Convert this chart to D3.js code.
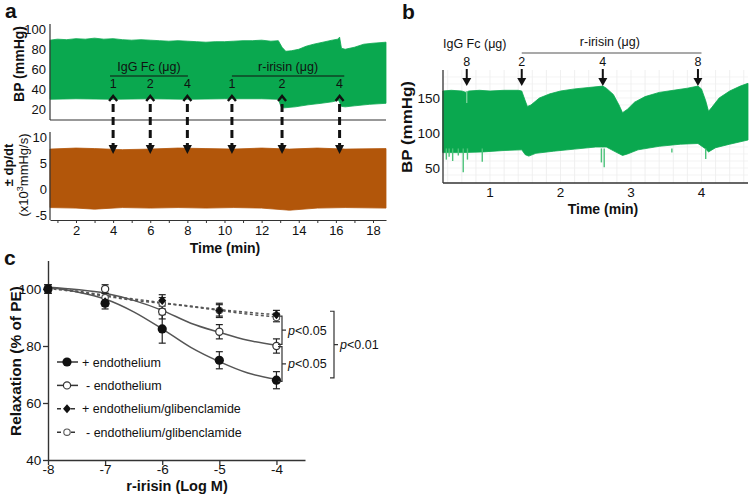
<!DOCTYPE html>
<html><head><meta charset="utf-8">
<script src="https://cdn.jsdelivr.net/npm/d3@7"></script>
<style>
body{margin:0;background:#fff;}
svg text{font-family:"Liberation Sans",Arial,Helvetica,sans-serif;fill:#111;}
</style></head><body>
<svg id="fig" width="750" height="498"></svg>
<script>
// ===== Panel a data =====
const aTimeTicks = [2,4,6,8,10,12,14,16,18];
const aBPTicks = [20,40,60,80,100];
const aDpTicks = [-5,0,5,10];
const aBPTop = [[0.6,89],[1.0,90],[1.5,89.5],[2.0,90.5],[2.5,90],[3.0,91],[3.5,90],[4.0,90.5],[4.5,89.5],[5,89],[5.5,89.5],[6,89],[6.5,88.5],[7,88],[7.5,88.5],[8,88],[8.5,87.5],[9,87],[9.5,87.5],[10,87.5],[10.5,88],[11,88.5],[11.5,88.5],[12,89],[12.5,88],[12.9,88.5],[13.1,82],[13.3,78],[13.6,78.5],[14.0,80],[14.4,83],[14.8,85],[15.3,87],[15.8,89],[16.1,90],[16.2,92],[16.3,81],[16.5,80],[17,82],[17.5,85],[18,86],[18.7,87]];
const aBPBottom = [[0.6,30.5],[2,31],[4,30.5],[6,31],[8,30.5],[10,31],[12,31],[12.9,30.5],[13.05,23],[13.2,22],[13.8,23],[14.5,25],[15.2,26.5],[15.8,28],[16.15,29.5],[16.3,23.5],[16.5,23],[17,24],[17.8,25.5],[18.7,26.5]];
const aDpTop = [[0.6,7.7],[2,7.9],[3,7.8],[4.5,7.6],[6,7.7],[7.5,7.9],[9,7.8],[10.5,7.7],[12,7.9],[13.5,7.7],[15,7.9],[16.5,7.7],[18.7,7.8]];
const aDpBottom = [[0.6,-3.4],[2,-3.5],[3,-3.7],[4.5,-3.4],[6,-3.5],[7.5,-3.4],[9,-3.5],[10.5,-3.4],[12,-3.5],[13.5,-3.9],[15,-3.5],[16.5,-3.4],[18.7,-3.5]];
const aIgGTimes = [4,6,8];
const aIgGLabels = ["1","2","4"];
const aIrisinTimes = [10.4,13.1,16.2];
const aIrisinLabels = ["1","2","4"];

// ===== Panel b data =====
const bTimeTicks = [1,2,3,4];
const bBPTicks = [50,100,150];
const bTop = [[0.33,160],[0.45,161],[0.6,160],[0.66,158],[0.7,160],[0.85,161],[1.0,160],[1.2,161],[1.4,161],[1.45,160],[1.5,146],[1.53,138],[1.58,140],[1.7,150],[1.85,156],[2.0,160],[2.2,163],[2.4,165],[2.6,167],[2.65,164],[2.75,155],[2.83,140],[2.88,129],[2.95,134],[3.05,144],[3.2,152],[3.4,158],[3.6,161],[3.8,164],[3.95,167],[4.0,163],[4.06,146],[4.1,131],[4.15,137],[4.25,150],[4.4,160],[4.55,167],[4.66,171]];
const bBottom = [[0.33,72],[0.6,72],[0.9,73],[1.2,75],[1.45,76],[1.5,69],[1.55,67],[1.65,71],[1.9,74],[2.2,77],[2.5,80],[2.65,80],[2.8,72],[2.88,68],[2.95,70],[3.1,76],[3.4,81],[3.7,84],[3.95,85],[4.05,78],[4.1,73],[4.2,79],[4.4,84],[4.66,90]];
const bSpikeT = [0.38,0.42,0.47,0.55,0.62,0.68,0.89,2.58,2.62,3.58,4.06];
const bSpikeMin = [62,66,60,68,44,62,59,58,51,72,63];
const bDoseT = [0.67,1.45,2.6,3.95];
const bDoseLabels = ["8","2","4","8"];

// ===== Panel c data =====
const cLogM = [-8,-7,-6,-5,-4];
const cEndoPlus = [100,95,86,75,68];
const cEndoPlusErr = [1.5,2,5,3,3];
const cEndoMinus = [100,100,92,85,80];
const cEndoMinusErr = [1.5,1.5,2.5,2.5,2.5];
const cGlibPlus = [100,95.5,96,92.5,91];
const cGlibPlusErr = [1.5,1.5,2,2.5,1.5];
const cGlibMinus = [100,97,95,92.5,90];
const cGlibMinusErr = [1.5,1.5,2,2,1.5];
const cFitX = [-8,-7.5,-7,-6.5,-6,-5.5,-5,-4.5,-4];
const cFitEndoPlus = [100.6,99,96.5,92,86,79.5,74.5,70.5,68.3];
const cFitEndoMinus = [100.6,99.8,98.5,96,92.5,88,84.8,82,80.3];
const cFitGlibPlus = [100.6,99.3,97.8,96.5,95.2,94,92.8,91.8,91];
const cFitGlibMinus = [100.2,99,97.5,96,95,93.8,92.5,91.2,90.2];
const cYTicks = [40,60,80,100];
const cLegend = ["+ endothelium","- endothelium","+ endothelium/glibenclamide","- endothelium/glibenclamide"];

const GREEN = "#0aa84f", ORANGE = "#b2560a", AX = "#333";
const svg = d3.select("#fig");

function band(g, top, bottom, x, y, color){
  const pts = top.map(d=>[x(d[0]),y(d[1])]).concat(bottom.slice().reverse().map(d=>[x(d[0]),y(d[1])]));
  g.append("path").attr("d", d3.line()(pts)+"Z").attr("fill",color).attr("stroke",color).attr("stroke-width",0.8);
}

// ================= Panel a =================
const xA = d3.scaleLinear().domain([0.6,18.7]).range([50,386]);
const yA1 = d3.scaleLinear().domain([10,105]).range([120,24]);
const yA2 = d3.scaleLinear().domain([-5.76,10.95]).range([220,132]);
const ga = svg.append("g");
ga.append("text").attr("x",5).attr("y",18).attr("font-size",21).attr("font-weight","bold").text("a");

band(ga, aBPTop, aBPBottom, xA, yA1, GREEN);
band(ga, aDpTop, aDpBottom, xA, yA2, ORANGE);

ga.append("line").attr("x1",50).attr("x2",50).attr("y1",24).attr("y2",120).attr("stroke",AX).attr("stroke-width",1.2);
ga.append("line").attr("x1",50).attr("x2",386).attr("y1",120).attr("y2",120).attr("stroke",AX).attr("stroke-width",1.2);
ga.append("line").attr("x1",50).attr("x2",50).attr("y1",132).attr("y2",220).attr("stroke",AX).attr("stroke-width",1.2);
const axA = d3.axisBottom(xA).tickValues(d3.range(1,19)).tickSize(3).tickSizeOuter(0)
  .tickFormat(d=>aTimeTicks.includes(d)?d:"");
const gxa = ga.append("g").attr("transform","translate(0,220)").call(axA);
gxa.select(".domain").attr("stroke",AX).attr("stroke-width",1.2);
gxa.selectAll(".tick line").attr("stroke",AX);
gxa.selectAll(".tick text").attr("font-size",13).attr("y",15).attr("dy",0).attr("fill","#111")
  .style("font-family","'Liberation Sans',Arial,sans-serif");

ga.selectAll(".bpt").data(aBPTicks).enter().append("text").attr("class","bpt")
  .attr("x",46).attr("y",d=>yA1(d)+4.5).attr("text-anchor","end").attr("font-size",13).text(d=>d);
ga.selectAll(".dpt").data(aDpTicks).enter().append("text").attr("class","dpt")
  .attr("x",47).attr("y",d=>yA2(d)+4.5).attr("text-anchor","end").attr("font-size",13).text(d=>d);

ga.append("text").attr("transform","translate(24,64) rotate(-90)").attr("text-anchor","middle")
  .attr("font-size",14).attr("font-weight","bold").text("BP (mmHg)");
ga.append("text").attr("transform","translate(13,165) rotate(-90)").attr("text-anchor","middle")
  .attr("font-size",13).attr("font-weight","bold").text("± dp/dt");
const t2 = ga.append("text").attr("transform","translate(28,175) rotate(-90)").attr("text-anchor","middle")
  .attr("font-size",13);
t2.append("tspan").text("(x10");
t2.append("tspan").attr("font-size",9).attr("dy",-5).text("3");
t2.append("tspan").attr("dy",5).text("mmHg/s)");
ga.append("text").attr("x",225).attr("y",253).attr("text-anchor","middle").attr("font-size",14)
  .attr("font-weight","bold").text("Time (min)");

function groupLabel(g, times, labels, title, lx1, lx2){
  g.append("line").attr("x1",lx1).attr("x2",lx2).attr("y1",76).attr("y2",76).attr("stroke","#111").attr("stroke-width",1.2);
  g.append("text").attr("x",(lx1+lx2)/2).attr("y",71).attr("text-anchor","middle").attr("font-size",12.5).text(title);
  times.forEach((t,i)=>{
    const x = xA(t);
    g.append("text").attr("x",x).attr("y",88).attr("text-anchor","middle").attr("font-size",12.5).text(labels[i]);
    g.append("path").attr("d",`M${x-4},${101}L${x},${96}L${x+4},${101}`).attr("fill","none").attr("stroke","#111").attr("stroke-width",2.4);
    g.append("line").attr("x1",x).attr("x2",x).attr("y1",104).attr("y2",147).attr("stroke","#111").attr("stroke-width",3).attr("stroke-dasharray","8,5");
    g.append("path").attr("d",`M${x-4.5},${145}L${x+4.5},${145}L${x},${154}Z`).attr("fill","#111");
  });
}
groupLabel(ga, aIgGTimes, aIgGLabels, "IgG Fc (μg)", xA(3.83), xA(8.03));
groupLabel(ga, aIrisinTimes, aIrisinLabels, "r-irisin (μg)", xA(10.4), xA(16.45));

// ================= Panel b =================
const xB = d3.scaleLinear().domain([0.333,4.66]).range([443,748]);
const yB = d3.scaleLinear().domain([28.6,190]).range([183,70]);
const gb = svg.append("g");
gb.append("text").attr("x",402).attr("y",19).attr("font-size",21).attr("font-weight","bold").text("b");
gb.selectAll(".gv").data(d3.range(0.4,4.66,0.2)).enter().append("line").attr("class","gv")
  .attr("x1",d=>xB(d)).attr("x2",d=>xB(d)).attr("y1",70).attr("y2",183).attr("stroke","#e9e9e9").attr("stroke-width",0.7);
gb.selectAll(".gh").data(d3.range(40,190,10)).enter().append("line").attr("class","gh")
  .attr("x1",443).attr("x2",748).attr("y1",d=>yB(d)).attr("y2",d=>yB(d)).attr("stroke","#efefef").attr("stroke-width",0.7);
band(gb, bTop, bBottom, xB, yB, GREEN);
gb.selectAll(".spk").data(bSpikeT).enter().append("line").attr("class","spk")
  .attr("x1",d=>xB(d)).attr("x2",d=>xB(d)).attr("y1",yB(78)).attr("y2",(d,i)=>yB(bSpikeMin[i]))
  .attr("stroke","#4cc27a").attr("stroke-width",1.4);
gb.append("line").attr("x1",xB(0.67)).attr("x2",xB(0.67)).attr("y1",yB(160)).attr("y2",yB(143)).attr("stroke","#7fd49d").attr("stroke-width",1.3);

gb.append("line").attr("x1",443).attr("x2",443).attr("y1",70).attr("y2",183).attr("stroke",AX).attr("stroke-width",1.3);
gb.append("line").attr("x1",443).attr("x2",748).attr("y1",183).attr("y2",183).attr("stroke",AX).attr("stroke-width",1.3);
gb.selectAll(".byt").data(bBPTicks).enter().append("text").attr("class","byt")
  .attr("x",440).attr("y",d=>yB(d)+5).attr("text-anchor","end").attr("font-size",13.5).text(d=>d);
gb.selectAll(".bxt").data(bTimeTicks).enter().append("text").attr("class","bxt")
  .attr("x",d=>xB(d)).attr("y",197).attr("text-anchor","middle").attr("font-size",13.5).text(d=>d);
gb.append("text").attr("x",603).attr("y",214).attr("text-anchor","middle").attr("font-size",14)
  .attr("font-weight","bold").text("Time (min)");
gb.append("text").attr("transform","translate(412,127) rotate(-90)").attr("text-anchor","middle")
  .attr("font-size",15).attr("font-weight","bold").attr("textLength",92).attr("lengthAdjust","spacingAndGlyphs").text("BP (mmHg)");
gb.append("text").attr("x",443).attr("y",48).attr("font-size",12.5).text("IgG Fc (μg)");
gb.append("line").attr("x1",xB(1.45)).attr("x2",xB(4.0)).attr("y1",53).attr("y2",53).attr("stroke","#555").attr("stroke-width",1.2);
gb.append("text").attr("x",xB(2.7)).attr("y",46).attr("text-anchor","middle").attr("font-size",12.5).text("r-irisin (μg)");
bDoseT.forEach((t,i)=>{
  const x = xB(t);
  gb.append("text").attr("x",x).attr("y",66).attr("text-anchor","middle").attr("font-size",12.5).text(bDoseLabels[i]);
  gb.append("line").attr("x1",x).attr("x2",x).attr("y1",69).attr("y2",80).attr("stroke","#111").attr("stroke-width",2);
  gb.append("path").attr("d",`M${x-4.5},${78}L${x+4.5},${78}L${x},${86}Z`).attr("fill","#111");
});

// ================= Panel c =================
const xC = d3.scaleLinear().domain([-8,-3.5]).range([48,305]);
const yC = d3.scaleLinear().domain([40,110]).range([460,260.5]);
const gc = svg.append("g");
gc.append("text").attr("x",4).attr("y",265).attr("font-size",21).attr("font-weight","bold").text("c");

const axCx = d3.axisBottom(xC).tickValues(cLogM).tickSize(5).tickSizeOuter(0).tickFormat(d=>d);
const gcx = gc.append("g").attr("transform","translate(0,460)").call(axCx);
const axCy = d3.axisLeft(yC).tickValues(cYTicks).tickSize(5).tickSizeOuter(0);
const gcy = gc.append("g").attr("transform","translate(48,0)").call(axCy);
[gcx,gcy].forEach(g=>{
  g.select(".domain").attr("stroke",AX).attr("stroke-width",1.4);
  g.selectAll(".tick line").attr("stroke",AX).attr("stroke-width",1.3);
  g.selectAll(".tick text").attr("font-size",13.5).attr("fill","#111").style("font-family","'Liberation Sans',Arial,sans-serif");
});
gcx.selectAll(".tick text").text(d=>"-"+Math.abs(d)).attr("y",14).attr("dy",0);
gcy.selectAll(".tick text").attr("dx","0.1em");

gc.append("text").attr("transform","translate(21,361) rotate(-90)").attr("text-anchor","middle")
  .attr("font-size",14.5).attr("font-weight","bold").attr("textLength",150).attr("lengthAdjust","spacingAndGlyphs").text("Relaxation (% of  PE)");
gc.append("text").attr("x",177).attr("y",491).attr("text-anchor","middle").attr("font-size",14.5)
  .attr("font-weight","bold").text("r-irisin (Log M)");

const fitLine = d3.line().x(d=>xC(d[0])).y(d=>yC(d[1])).curve(d3.curveMonotoneX);
const fits = [[cFitGlibMinus,"3,2.5"],[cFitGlibPlus,"3,2.5"],[cFitEndoMinus,null],[cFitEndoPlus,null]];
fits.forEach(([vals,dash])=>{
  gc.append("path").attr("d",fitLine(cFitX.map((x,i)=>[x,vals[i]])))
    .attr("fill","none").attr("stroke","#555").attr("stroke-width",1.5).attr("stroke-dasharray",dash);
});

const series = [
  {v:cGlibMinus,e:cGlibMinusErr,m:"openS"},
  {v:cGlibPlus,e:cGlibPlusErr,m:"diamond"},
  {v:cEndoMinus,e:cEndoMinusErr,m:"open"},
  {v:cEndoPlus,e:cEndoPlusErr,m:"filled"}
];
function marker(g,x,y,m){
  if(m==="filled") g.append("circle").attr("cx",x).attr("cy",y).attr("r",4.6).attr("fill","#111");
  else if(m==="open") g.append("circle").attr("cx",x).attr("cy",y).attr("r",3.6).attr("fill","#fff").attr("stroke","#333").attr("stroke-width",1.2);
  else if(m==="openS") g.append("circle").attr("cx",x).attr("cy",y).attr("r",3.2).attr("fill","#fff").attr("stroke","#555").attr("stroke-width",1.1);
  else g.append("path").attr("d",`M${x},${y-4.5}L${x+4},${y}L${x},${y+4.5}L${x-4},${y}Z`).attr("fill","#111");
}
series.forEach(s=>{
  cLogM.forEach((lx,i)=>{
    const x = xC(lx), y1 = yC(s.v[i]+s.e[i]), y2 = yC(s.v[i]-s.e[i]);
    gc.append("line").attr("x1",x).attr("x2",x).attr("y1",y1).attr("y2",y2).attr("stroke","#222").attr("stroke-width",1.2);
    gc.append("line").attr("x1",x-3.5).attr("x2",x+3.5).attr("y1",y1).attr("y2",y1).attr("stroke","#222").attr("stroke-width",1.2);
    gc.append("line").attr("x1",x-3.5).attr("x2",x+3.5).attr("y1",y2).attr("y2",y2).attr("stroke","#222").attr("stroke-width",1.2);
  });
});
series.forEach(s=>{
  cLogM.forEach((lx,i)=>marker(gc,xC(lx),yC(s.v[i]),s.m));
});

const legM = ["filled","open","diamond","openS"];
const legDash = [null,null,"4,3","4,3"];
cLegend.forEach((t,i)=>{
  const y = 362 + i*23.4;
  gc.append("line").attr("x1",57).attr("x2",78).attr("y1",y).attr("y2",y).attr("stroke","#333").attr("stroke-width",1.5).attr("stroke-dasharray",legDash[i]);
  marker(gc,67,y,legM[i]);
  gc.append("text").attr("x",t[0]==="+"?82:86).attr("y",y+4.5).attr("font-size",12.5).text(t);
});

function bracket(g,x,ya,yb,label){
  g.append("path").attr("d",`M${x-4},${ya}L${x},${ya}L${x},${yb}L${x-4},${yb}M${x},${(ya+yb)/2}L${x+4},${(ya+yb)/2}`)
    .attr("fill","none").attr("stroke","#333").attr("stroke-width",1.2);
  const t = g.append("text").attr("x",x+6).attr("y",(ya+yb)/2+4.5).attr("font-size",12.5);
  t.append("tspan").attr("font-style","italic").text("p");
  t.append("tspan").text(label);
}
bracket(gc, 282, yC(90.5), yC(80.6), "<0.05");
bracket(gc, 282, yC(79.8), yC(67.6), "<0.05");
bracket(gc, 334, yC(92.2), yC(68.8), "<0.01");
</script>
</body></html>
